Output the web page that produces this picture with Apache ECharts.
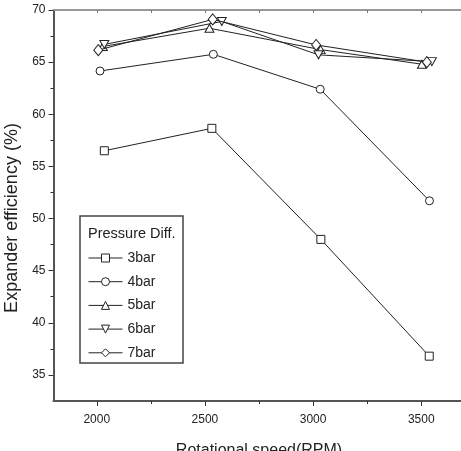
<!DOCTYPE html>
<html>
<head>
<meta charset="utf-8">
<script src="https://cdn.jsdelivr.net/npm/echarts@6/dist/echarts.min.js"></script>
<style>html,body{margin:0;padding:0;background:#fff}#c{width:461px;height:451px}</style>
</head>
<body>
<div id="c"></div>
<script>
// Data
const seriesNames = ['3bar', '4bar', '5bar', '6bar', '7bar'];
const speed3 = [2035, 2532, 3036, 3537];
const eff3 = [56.5, 58.65, 48.0, 36.8];
const speed4 = [2015, 2539, 3033, 3538];
const eff4 = [64.15, 65.75, 62.4, 51.7];
const speed5 = [2028, 2521, 3035, 3503];
const eff5 = [66.5, 68.25, 66.2, 64.8];
const speed6 = [2035, 2578, 3025, 3549];
const eff6 = [66.7, 68.9, 65.7, 65.05];
const speed7 = [2007, 2536, 3014, 3526];
const eff7 = [66.15, 69.1, 66.65, 65.0];
const xMajorTicks = [2000, 2500, 3000, 3500];
const xMinorTicks = [2250, 2750, 3250];
const yMajorTicks = [35, 40, 45, 50, 55, 60, 65, 70];
const yMinorTicks = [37.5, 42.5, 47.5, 52.5, 57.5, 62.5, 67.5];

const xs = [speed3, speed4, speed5, speed6, speed7];
const ys = [eff3, eff4, eff5, eff6, eff7];
const symbols = ['rect', 'circle', 'triangle', 'triangle', 'diamond'];
const rotates = [0, 0, 0, 180, 0];
const sizes = [[8, 8], 8, [9, 8], [9, 8], [9, 11]];

const chart = echarts.init(document.getElementById('c'));
const lineColor = '#222';
const font = 'Liberation Sans, Arial, sans-serif';

const series = seriesNames.map((n, i) => ({
  name: n,
  type: 'line',
  data: xs[i].map((x, j) => [x, ys[i][j]]),
  symbol: symbols[i],
  symbolRotate: rotates[i],
  symbolSize: sizes[i],
  showAllSymbol: true,
  lineStyle: {color: lineColor, width: 1},
  itemStyle: {color: '#fff', borderColor: lineColor, borderWidth: 1},
  xAxisIndex: 0,
  yAxisIndex: 0,
  z: 10 + i
}));

chart.setOption({
  animation: false,
  backgroundColor: '#fff',
  grid: {left: 53.5, top: 10, width: 411, height: 391, outerBoundsMode: 'none', containLabel: false},
  xAxis: [
    {
      type: 'value', min: 1800, max: 3700, position: 'bottom',
      name: 'Rotational speed(RPM)', nameLocation: 'middle', nameGap: 42,
      nameTextStyle: {fontFamily: font, fontSize: 16, color: '#222'},
      axisLine: {lineStyle: {color: '#555', width: 2}},
      axisTick: {customValues: xMajorTicks, length: 5, inside: false, lineStyle: {color: '#333', width: 1}},
      axisLabel: {customValues: xMajorTicks, margin: 13, fontFamily: font, fontSize: 12, color: '#222',
                  formatter: v => String(v)},
      splitLine: {show: false}
    },
    {
      type: 'value', min: 1800, max: 3700, position: 'bottom', gridIndex: 0,
      axisLine: {show: false},
      axisTick: {customValues: xMinorTicks, length: 3, lineStyle: {color: '#333', width: 1}},
      axisLabel: {show: false},
      splitLine: {show: false}
    },
    {
      type: 'value', min: 1800, max: 3700, position: 'top',
      axisLine: {lineStyle: {color: '#999', width: 2}},
      axisTick: {customValues: xMajorTicks.concat(xMinorTicks), inside: true, length: 3, lineStyle: {color: '#777'}},
      axisLabel: {show: false},
      splitLine: {show: false}
    }
  ],
  yAxis: [
    {
      type: 'value', min: 32.5, max: 70, position: 'left',
      name: 'Expander efficiency (%)', nameLocation: 'middle', nameGap: 30,
      nameTextStyle: {fontFamily: font, fontSize: 18, color: '#222', padding: [0, 0, 0, -25]},
      axisLine: {lineStyle: {color: '#555', width: 2}},
      axisTick: {customValues: yMajorTicks, length: 5, lineStyle: {color: '#333', width: 1}},
      axisLabel: {customValues: yMajorTicks, margin: 8, fontFamily: font, fontSize: 12, color: '#222'},
      splitLine: {show: false}
    },
    {
      type: 'value', min: 32.5, max: 70, position: 'left',
      axisLine: {show: false},
      axisTick: {customValues: yMinorTicks, length: 3, lineStyle: {color: '#333', width: 1}},
      axisLabel: {show: false},
      splitLine: {show: false}
    }
  ],
  legend: {
    orient: 'vertical',
    left: 83, top: 246,
    itemWidth: 34, itemHeight: 10,
    itemGap: 9.7,
    symbolRotate: 'inherit',
    lineStyle: {width: 1},
    itemStyle: {borderWidth: 1},
    textStyle: {fontFamily: font, fontSize: 14, color: '#222'},
    data: seriesNames
  },
  graphic: [
    {type: 'rect', shape: {x: 80, y: 216, width: 103, height: 147},
     style: {fill: 'none', stroke: '#444', lineWidth: 1.5}, z: 1},
    {type: 'text', x: 88, y: 226,
     style: {text: 'Pressure Diff.', font: '14.5px ' + font, fill: '#222'}, z: 2}
  ],
  series: series
});
</script>
</body>
</html>
